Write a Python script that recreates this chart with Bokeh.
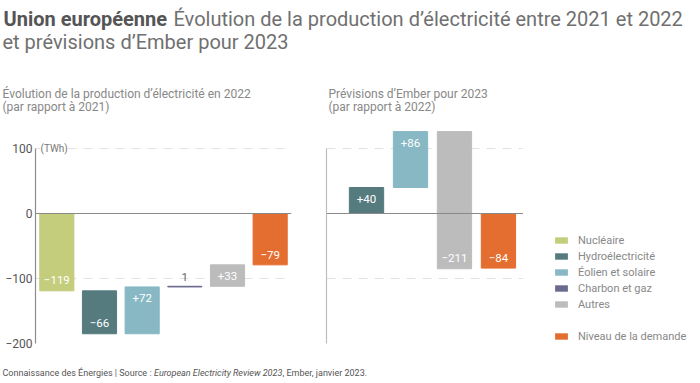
from bokeh.plotting import figure
from bokeh.layouts import column, row
from bokeh.models import (Range1d, FixedTicker, Span, Label, Legend, LegendItem,
                          ColumnDataSource)
from bokeh.core.properties import value
from bokeh.embed import file_html
from bokeh.resources import INLINE
from bokeh.core.validation import silence
from bokeh.core.validation.warnings import MISSING_RENDERERS

silence(MISSING_RENDERERS, True)

# ---------------- data ----------------
cats_2022 = ["Nucléaire", "Hydroélectricité", "Éolien et solaire", "Charbon et gaz", "Autres"]
delta_2022 = [-119, -66, 72, 1, 33]
demand_2022 = -79

cats_2023 = ["Hydroélectricité", "Éolien et solaire", "Autres"]
delta_2023 = [40, 86, -211]
demand_2023 = -84

demand_label = "Niveau de la demande"
legend_labels = ["Nucléaire", "Hydroélectricité", "Éolien et solaire", "Charbon et gaz", "Autres"]
y_ticks = [-200, -100, 0, 100]

title_bold = "Union européenne"
title_rest = "Évolution de la production d’électricité entre 2021 et 2022"
title_line2 = "et prévisions d’Ember pour 2023"
sub_left = ["Évolution de la production d’électricité en 2022", "(par rapport à 2021)"]
sub_right = ["Prévisions d’Ember pour 2023", "(par rapport à 2022)"]
unit_label = "(TWh)"
source_parts = ["Connaissance des Énergies | Source : ", "European Electricity Review 2023",
                ", Ember, janvier 2023."]

# ---------------- styles ----------------
FONT = "Roboto"
GFONT = value("Roboto")
COLORS = {
    "Nucléaire": "#c4cd7c",
    "Hydroélectricité": "#557b7f",
    "Éolien et solaire": "#87b8c4",
    "Charbon et gaz": "#6a6a8e",
    "Autres": "#bcbcbc",
    demand_label: "#e46d30",
}
GRID_COLOR = "#e2e2e2"


def fmt(v):
    if abs(v) < 10:
        return str(v)
    return ("+" if v > 0 else "\u2212") + str(abs(v))


def waterfall(cats, deltas, demand, x0):
    d = dict(x=[], top=[], bottom=[], color=[], ly=[], lab=[], off=[], lcol=[])
    cum = 0
    for i, (c, v) in enumerate(zip(cats, deltas)):
        start, cum = cum, cum + v
        d["x"].append(x0 + i)
        d["top"].append(max(start, cum))
        d["bottom"].append(min(start, cum))
        d["color"].append(COLORS[c])
        d["lab"].append(fmt(v))
        if abs(v) < 10:
            d["ly"].append(max(start, cum))
            d["off"].append(-9)
            d["lcol"].append("#666666")
        else:
            d["ly"].append(cum)
            d["off"].append(11 if v > 0 else -11)
            d["lcol"].append("white")
    d["x"].append(x0 + len(cats))
    d["top"].append(max(0, demand))
    d["bottom"].append(min(0, demand))
    d["color"].append(COLORS[demand_label])
    d["lab"].append(fmt(demand))
    d["ly"].append(demand)
    d["off"].append(-10 if demand < 0 else 10)
    d["lcol"].append("white")
    return ColumnDataSource(d)


def panel(width, frame_w, x_range, mb_left, mb_right, show_labels, axis_color):
    p = figure(width=width, height=238, frame_width=frame_w, frame_height=215,
               x_range=x_range, y_range=Range1d(-200, 130.77),
               x_axis_type=None, output_backend="svg", toolbar_location=None,
               min_border_left=mb_left, min_border_right=mb_right,
               min_border_top=10, min_border_bottom=13)
    p.outline_line_color = None
    p.background_fill_color = "white"
    ax = p.yaxis[0]
    ax.ticker = FixedTicker(ticks=y_ticks if show_labels else [])
    ax.bounds = (y_ticks[0], y_ticks[-1])
    ax.axis_line_color = axis_color
    ax.axis_line_width = 1.2
    ax.major_tick_line_color = None
    ax.minor_tick_line_color = None
    ax.major_tick_out = 0
    ax.major_tick_in = 0
    ax.major_label_text_font = FONT
    ax.major_label_text_font_size = "12px"
    ax.major_label_text_color = "#555555"
    ax.major_label_standoff = 3
    g = p.ygrid[0]
    g.ticker = FixedTicker(ticks=[t for t in y_ticks if t != 0])
    g.grid_line_color = GRID_COLOR
    g.grid_line_dash = "9 7"
    g.grid_line_width = 1
    p.add_layout(Span(location=0, dimension="width", line_color="#8a8a8a", line_width=1.2))
    return p


def bars(p, src, w):
    p.vbar(x="x", top="top", bottom="bottom", width=w, fill_color="color",
           line_color="color", line_width=1, source=src)
    p.text(x="x", y="ly", text="lab", y_offset="off", text_color="lcol", source=src,
           text_align="center", text_baseline="middle", text_font=GFONT,
           text_font_size="11.5px")


# ---- left panel ----
src1 = waterfall(cats_2022, delta_2022, demand_2022, 0)
p1 = panel(316, 256, Range1d(-0.5, 5.5), 35, 25, True, "#8c8c8c")
bars(p1, src1, 0.8)
p1.add_layout(Label(x=5, y=y_ticks[-1], x_units="screen", y_units="data", text=unit_label,
                    text_font=FONT, text_font_size="10px", text_color="#777777",
                    text_baseline="middle", background_fill_color="white"))

# ---- right panel ----
src2 = waterfall(cats_2023, delta_2023, demand_2023, 1)
p2 = panel(207, 197, Range1d(0.09, 4.57), 10, 0, False, "#bdbdbd")
bars(p2, src2, 0.78)


# ---- text-only canvases ----
def text_fig(w, h):
    f = figure(width=w, height=h, x_range=Range1d(0, 1), y_range=Range1d(0, 1),
               x_axis_type=None, y_axis_type=None, output_backend="svg",
               toolbar_location=None, min_border=0)
    f.outline_line_color = None
    f.grid.visible = False
    return f


# ---- legend ----
lg = text_fig(169, 238)
NAN = float("nan")
items = []
for lab in legend_labels + [" ", demand_label]:
    col = COLORS.get(lab, "white")
    alpha = 0 if lab == " " else 1
    r = lg.vbar(x=[NAN], top=[NAN], width=0.5, fill_color=col, fill_alpha=alpha,
                line_color=None)
    items.append(LegendItem(label=lab, renderers=[r]))
legend = Legend(items=items, location=(30, 0.5), glyph_width=16, glyph_height=8,
                label_standoff=9, spacing=3, label_height=13, padding=0, margin=0,
                border_line_color=None, background_fill_alpha=0,
                label_text_font=FONT, label_text_font_size="11px",
                label_text_color="#888888", label_text_line_height=1.0)
lg.add_layout(legend)

# ---- header ----
hdr = text_fig(692, 118)
TS = "20px"


def hlabel(f, x, y, text, size, color, style="normal"):
    f.add_layout(Label(x=x, y=y, x_units="screen", y_units="screen", text=text,
                       text_font=FONT, text_font_size=size, text_font_style=style,
                       text_color=color, text_baseline="alphabetic"))


hlabel(hdr, 3, 99.5, title_bold, TS, "#555555", "bold")
hlabel(hdr, 173, 99.5, title_rest, TS, "#707070")
hlabel(hdr, 2, 76.5, title_line2, TS, "#707070")
for i, (a, b) in enumerate(zip(sub_left, sub_right)):
    yy = 24.5 - i * 13
    hlabel(hdr, 2, yy, a, "12px", "#888888")
    hlabel(hdr, 328, yy, b, "12px", "#888888")

# ---- footer ----
ftr = text_fig(692, 22)
for xx, t, st in zip([2, 153.5, 282], source_parts, ["normal", "italic", "normal"]):
    hlabel(ftr, xx, 5.5, t, "9px", "#555555", st)

layout = column(hdr, row(p1, p2, lg), ftr)
open("out.html", "w").write(file_html(layout, INLINE))
